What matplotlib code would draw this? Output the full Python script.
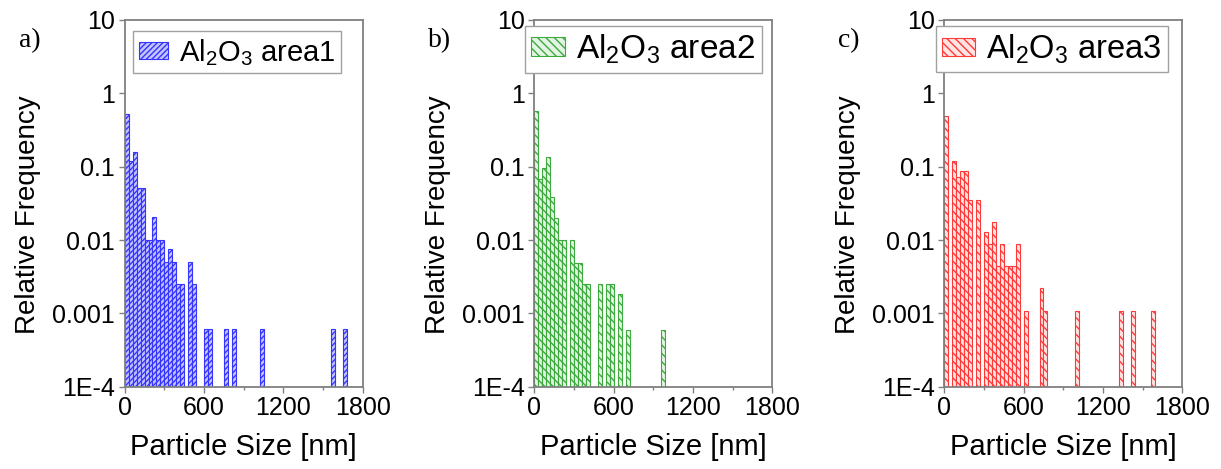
import matplotlib
matplotlib.use("Agg")
import matplotlib.pyplot as plt
from matplotlib.patches import Patch
from matplotlib.ticker import FixedLocator, FixedFormatter, NullLocator

# ---------------- data (bin left edges in nm, relative frequency) ----------------
bin_width = 30

sizes_a = [0, 30, 60, 90, 120, 150, 180, 210, 240, 270, 300, 330, 360, 390, 420,
           480, 510, 600, 630, 750, 810, 1020, 1560, 1650]
freq_a = [0.52, 0.12, 0.16, 0.051, 0.051, 0.01, 0.01, 0.0204, 0.01, 0.01, 0.005,
          0.0075, 0.005, 0.0025, 0.0025, 0.005, 0.0025, 0.00062, 0.00062, 0.00062,
          0.00062, 0.00062, 0.00062, 0.00062]

sizes_b = [0, 30, 60, 90, 120, 150, 180, 210, 270, 300, 330, 360, 390, 480, 540,
           570, 630, 690, 960]
freq_b = [0.58, 0.067, 0.097, 0.134, 0.039, 0.0197, 0.01, 0.01, 0.01, 0.0049,
          0.0049, 0.0025, 0.0025, 0.0025, 0.0025, 0.0025, 0.00184, 0.0006, 0.0006]

sizes_c = [0, 60, 90, 120, 150, 180, 240, 300, 330, 360, 390, 420, 450, 480, 510,
           540, 600, 720, 750, 990, 1320, 1410, 1560]
freq_c = [0.49, 0.121, 0.0715, 0.087, 0.087, 0.035, 0.035, 0.013, 0.0088, 0.0174,
          0.0044, 0.0088, 0.0044, 0.0044, 0.0044, 0.0088, 0.00108, 0.0022, 0.00108,
          0.00108, 0.00108, 0.00108, 0.00108]

labels = [r'Al$_\mathregular{2}$O$_\mathregular{3}$ area1',
          r'Al$_\mathregular{2}$O$_\mathregular{3}$ area2',
          r'Al$_\mathregular{2}$O$_\mathregular{3}$ area3']
panel_tags = ['a)', 'b)', 'c)']

y_ticks = [1e-4, 1e-3, 1e-2, 1e-1, 1, 10]
y_ticklabels = ['1E-4', '0.001', '0.01', '0.1', '1', '10']
x_ticks = [0, 600, 1200, 1800]
x_minor = [300, 900, 1500]

# ---------------- style ----------------
plt.rcParams['font.family'] = ['Liberation Sans', 'DejaVu Sans']
plt.rcParams['mathtext.fontset'] = 'custom'
plt.rcParams['mathtext.rm'] = 'Liberation Sans'
plt.rcParams['mathtext.it'] = 'Liberation Sans:italic'
plt.rcParams['hatch.linewidth'] = 1.0

edge_colors = ['#3535FF', '#3DAA3D', '#FF3838']
face_colors = ['#C4C4FF', '#E4F4E4', '#FFE4E4']
hatches = ['//////', '\\\\\\\\', '\\\\\\\\']
legend_anchor = [(0.909, 0.970), (0.957, 0.984), (0.940, 0.984)]
legend_size = [21, 24, 23.5]

W, H = 1221, 469
fig = plt.figure(figsize=(W / 100, H / 100), dpi=100)

axes_left_px = [124.7, 534.3, 944.3]
axes_w_px = 238.0
axes_top_px, axes_bot_px = 20.0, 386.7

series = [(sizes_a, freq_a), (sizes_b, freq_b), (sizes_c, freq_c)]
spine_color = '#808080'

for i, (sizes, freqs) in enumerate(series):
    ax = fig.add_axes([axes_left_px[i] / W, 1 - axes_bot_px / H,
                       axes_w_px / W, (axes_bot_px - axes_top_px) / H])
    ax.set_yscale('log')
    ax.bar(sizes, [f - 1e-5 for f in freqs], width=bin_width, align='edge',
           bottom=1e-5, facecolor=face_colors[i], edgecolor=edge_colors[i],
           hatch=hatches[i], linewidth=0.8)
    ax.set_xlim(0, 1800)
    ax.set_ylim(1e-4, 10)
    ax.yaxis.set_major_locator(FixedLocator(y_ticks))
    ax.yaxis.set_major_formatter(FixedFormatter(y_ticklabels))
    ax.yaxis.set_minor_locator(NullLocator())
    ax.xaxis.set_major_locator(FixedLocator(x_ticks))
    ax.xaxis.set_minor_locator(FixedLocator(x_minor))
    ax.tick_params(axis='both', which='major', direction='out', length=4,
                   width=1.0, color=spine_color, labelsize=18, pad=3)
    ax.tick_params(axis='x', which='minor', direction='out', length=2.5,
                   width=1.0, color=spine_color)
    for s in ax.spines.values():
        s.set_color(spine_color)
        s.set_linewidth(1.3)
    ax.set_xlabel('Particle Size [nm]', fontsize=21)
    ax.xaxis.set_label_coords(0.5, -0.125)
    ax.xaxis.label.set_va('top')
    ax.set_ylabel('Relative Frequency', fontsize=20)
    ax.yaxis.set_label_coords(-0.35, 0.47)

    handle = Patch(facecolor=face_colors[i], edgecolor=edge_colors[i],
                   hatch=hatches[i], linewidth=0.8)
    leg = ax.legend([handle], [labels[i]], loc='upper right',
                    bbox_to_anchor=legend_anchor[i], fontsize=legend_size[i],
                    fancybox=False, framealpha=1, edgecolor='#A0A0A0',
                    handlelength=1.0, handleheight=0.5, handletextpad=0.35,
                    borderpad=0.2, borderaxespad=0.0)
    leg.get_frame().set_linewidth(1.0)

    fig.text((axes_left_px[i] - 106) / W, 1 - 41 / H, panel_tags[i],
             fontsize=20, family='Liberation Serif', va='center', ha='left')

fig.savefig('out.png', dpi=100)
